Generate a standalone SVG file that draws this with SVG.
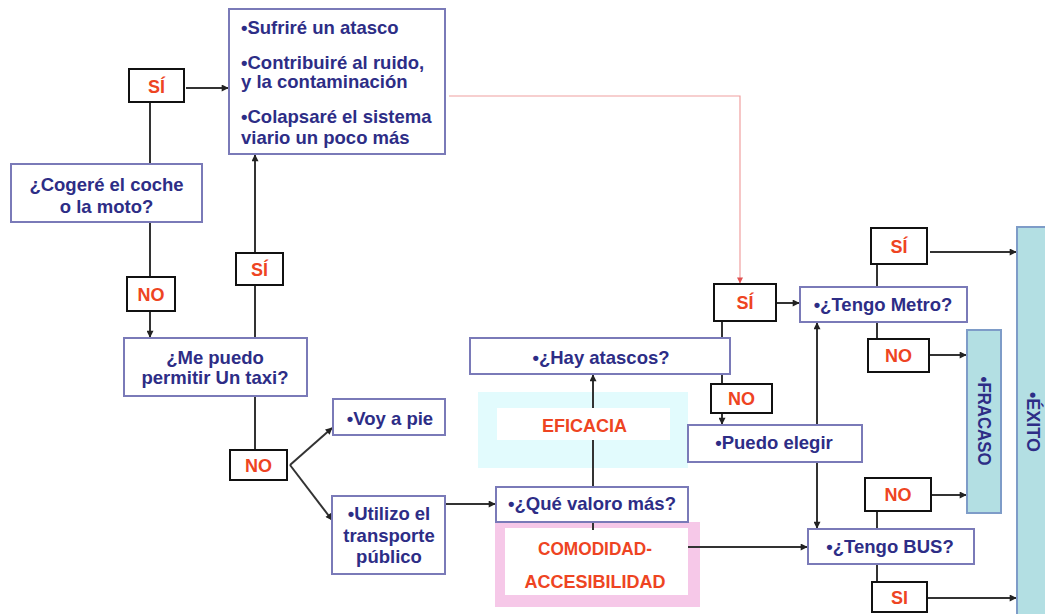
<svg xmlns="http://www.w3.org/2000/svg" width="1045" height="614" viewBox="0 0 1045 614">
<defs>
<marker id="ah" viewBox="0 0 10 10" refX="9" refY="5" markerWidth="8" markerHeight="7" orient="auto-start-reverse" markerUnits="userSpaceOnUse">
<path d="M0,0 L10,5 L0,10 z" fill="#222"/>
</marker>
<marker id="ahr" viewBox="0 0 10 10" refX="9" refY="5" markerWidth="7" markerHeight="6" orient="auto" markerUnits="userSpaceOnUse">
<path d="M0,0 L10,5 L0,10 z" fill="#e05050"/>
</marker>
<style>
.n{fill:#fff;stroke:#7a7ab8;stroke-width:2}
.l{fill:#fff;stroke:#111;stroke-width:2}
.t{font-family:"Liberation Sans",Arial,sans-serif;font-weight:bold;font-size:18.5px;fill:#2d2d86}
.c{text-anchor:middle}
.r{font-family:"Liberation Sans",Arial,sans-serif;font-weight:bold;font-size:18px;fill:#ee4422;text-anchor:middle}
.e{font-family:"Liberation Sans",Arial,sans-serif;font-weight:bold;font-size:19px;fill:#ee4422;text-anchor:middle}
.k{fill:none;stroke:#333;stroke-width:2}
.a{marker-end:url(#ah)}
.big{fill:#b3dfe3;stroke:#7e9cc8;stroke-width:2}
</style>
</defs>
<rect width="1045" height="614" fill="#fff"/>

<g id="eficacia">
<rect x="478" y="392" width="210" height="76" fill="#e2fbfd"/>
</g>
<g id="comodidad-bg">
<rect x="495" y="522" width="205" height="85" fill="#f6c8e8"/>
<rect x="505" y="528" width="183" height="67" fill="#fff"/>
</g>

<g id="connectors">
<path class="k a" d="M186,88 H228"/>
<path class="k" d="M150,164 V102"/>
<path class="k" d="M150,222 V277"/>
<path class="k a" d="M150,311 V337"/>
<path class="k" d="M255,338 V285"/>
<path class="k a" d="M255,253 V155"/>
<path class="k" d="M255,396 V450"/>
<path class="k a" d="M290,465 L332,428"/>
<path class="k a" d="M290,465 L332,520"/>
<path class="k a" d="M445,504 H495"/>
<path class="k a" d="M593,487 V375"/>
<path class="k" d="M593,522 V530"/>
<path class="k a" d="M688,547 H807"/>
<path fill="none" stroke="#f0a0a0" stroke-width="1.2" d="M449,96 H740 V283" marker-end="url(#ahr)"/>
<path class="k a" d="M776,303 H799"/>
<path class="k" d="M722,321 V338"/>
<path class="k" d="M722,374 V384"/>
<path class="k a" d="M722,413 V424"/>
<path class="k a" d="M817,425 V323"/>
<path class="k a" d="M817,462 V528"/>
<path class="k" d="M877,287 V264"/>
<path class="k a" d="M930,252 H1016"/>
<path class="k" d="M877,322 V339"/>
<path class="k a" d="M929,355 H966"/>
<path class="k" d="M877,529 V511"/>
<path class="k a" d="M931,495 H966"/>
<path class="k" d="M877,564 V582"/>
<path class="k a" d="M927,598 H1016"/>
</g>

<g id="eficacia-label">
<rect x="497" y="408" width="173" height="32" fill="#fff"/>
<text class="e" x="584.5" y="432" textLength="85" lengthAdjust="spacingAndGlyphs">EFICACIA</text>
</g>

<g id="comodidad">
<text class="e" x="595" y="555" textLength="114" lengthAdjust="spacingAndGlyphs">COMODIDAD-</text>
<text class="e" x="595" y="588" textLength="141" lengthAdjust="spacingAndGlyphs">ACCESIBILIDAD</text>
</g>

<g id="consecuencias">
<rect class="n" x="229" y="9" width="216" height="145"/>
<text class="t" x="241" y="34">•Sufriré un atasco</text>
<text class="t" x="241" y="69">•Contribuiré al ruido,</text>
<text class="t" x="241" y="88">y la contaminación</text>
<text class="t" x="241" y="123">•Colapsaré el sistema</text>
<text class="t" x="241" y="144">viario un poco más</text>
</g>

<g id="si1"><rect class="l" x="129" y="69" width="55" height="33"/><text class="r" x="156.5" y="93">SÍ</text></g>

<g id="coche">
<rect class="n" x="11" y="164" width="191" height="58"/>
<text class="t c" x="106.5" y="191">¿Cogeré el coche</text>
<text class="t c" x="106.5" y="213">o la moto?</text>
</g>

<g id="no1"><rect class="l" x="127" y="277" width="48" height="34"/><text class="r" x="151" y="301">NO</text></g>

<g id="taxi">
<rect class="n" x="124" y="338" width="183" height="58"/>
<text class="t c" x="215" y="364">¿Me puedo</text>
<text class="t c" x="215" y="384">permitir Un taxi?</text>
</g>

<g id="si2"><rect class="l" x="236" y="253" width="47" height="32"/><text class="r" x="259.5" y="276">SÍ</text></g>

<g id="no2"><rect class="l" x="230" y="450" width="57" height="30"/><text class="r" x="258.5" y="472">NO</text></g>

<g id="voy">
<rect class="n" x="333" y="399" width="112" height="36"/>
<text class="t c" x="390" y="425">•Voy a pie</text>
</g>

<g id="utilizo">
<rect class="n" x="332" y="496" width="113" height="78"/>
<text class="t c" x="389" y="520">•Utilizo el</text>
<text class="t c" x="389" y="542">transporte</text>
<text class="t c" x="389" y="563">público</text>
</g>

<g id="atascos">
<rect class="n" x="470" y="338" width="260" height="36"/>
<text class="t c" x="601" y="364">•¿Hay atascos?</text>
</g>

<g id="valoro">
<rect class="n" x="496" y="487" width="192" height="35"/>
<text class="t c" x="592" y="510">•¿Qué valoro más?</text>
</g>

<g id="si3"><rect class="l" x="714" y="284" width="62" height="37"/><text class="r" x="745" y="309">SÍ</text></g>

<g id="no3"><rect class="l" x="711" y="384" width="61" height="29"/><text class="r" x="741.5" y="405">NO</text></g>

<g id="puedo">
<rect class="n" x="688" y="425" width="174" height="37"/>
<text class="t c" x="774" y="449">•Puedo elegir</text>
</g>

<g id="metro">
<rect class="n" x="800" y="287" width="167" height="35"/>
<text class="t c" x="883" y="311">•¿Tengo Metro?</text>
</g>

<g id="si4"><rect class="l" x="871" y="228" width="56" height="36"/><text class="r" x="899" y="253">SÍ</text></g>

<g id="no4"><rect class="l" x="868" y="339" width="61" height="33"/><text class="r" x="898.5" y="362">NO</text></g>

<g id="fracaso">
<rect class="big" x="967" y="330" width="34" height="183"/>
<text class="t c" transform="translate(978,421) rotate(90)" x="0" y="0" font-size="15" textLength="89" lengthAdjust="spacingAndGlyphs">•FRACASO</text>
</g>

<g id="exito">
<rect class="big" x="1017" y="227" width="40" height="400"/>
<text class="t c" transform="translate(1027,422) rotate(90)" x="0" y="0" font-size="16" textLength="60" lengthAdjust="spacingAndGlyphs">•ÉXITO</text>
</g>

<g id="bus">
<rect class="n" x="808" y="529" width="166" height="35"/>
<text class="t c" x="890" y="553">•¿Tengo BUS?</text>
</g>

<g id="no5"><rect class="l" x="865" y="478" width="66" height="33"/><text class="r" x="898" y="501">NO</text></g>

<g id="si5"><rect class="l" x="872" y="582" width="55" height="30"/><text class="r" x="899.5" y="604">SI</text></g>
</svg>
